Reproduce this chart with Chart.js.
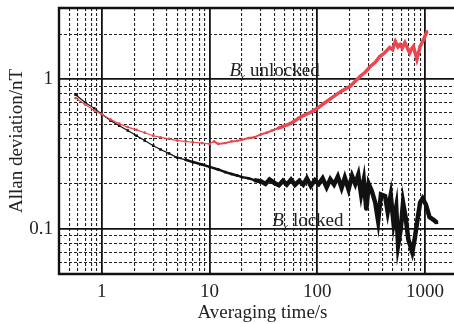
<!DOCTYPE html>
<html>
<head>
<meta charset="utf-8">
<script src="https://cdn.jsdelivr.net/npm/chart.js@4/dist/chart.umd.min.js"></script>
<style>
  html, body { margin: 0; padding: 0; background: #fff; overflow: hidden; }
  #wrap { width: 454px; height: 324px; overflow: hidden; }
</style>
</head>
<body>
<!-- the plot runs past the right edge of the picture, as in the original -->
<div id="wrap"><canvas id="allan" width="470" height="324"></canvas></div>
<script>
// averaging time (s) and Allan deviation (nT)
var lockedTimes = [0.57, 0.7, 0.85, 1.0, 1.2, 1.45, 1.74, 2.1, 2.5, 3.0, 3.5, 4.2, 5.0, 6.0, 7.0, 8.5,
  10, 12, 14, 16, 18, 20, 23, 26, 30, 33, 36, 40, 44, 48, 52, 57, 62, 68, 74, 80, 87, 95,
  103, 112, 122, 132, 143, 155, 168, 180, 195, 210, 225, 240, 255, 270, 285, 300, 320, 345,
  367, 390, 426, 450, 480, 510, 540, 562, 595, 625, 660, 700, 760, 800, 850, 900, 950, 1020,
  1100, 1200, 1290];
var lockedDev = [0.79, 0.7, 0.64, 0.585, 0.53, 0.49, 0.455, 0.42, 0.39, 0.36, 0.34, 0.32, 0.30, 0.29, 0.28, 0.27,
  0.26, 0.25, 0.24, 0.233, 0.228, 0.222, 0.218, 0.212, 0.208, 0.2, 0.214, 0.203, 0.196, 0.21, 0.198, 0.214, 0.197, 0.21, 0.198, 0.218, 0.194, 0.212,
  0.2, 0.218, 0.19, 0.215, 0.198, 0.224, 0.188, 0.22, 0.184, 0.226, 0.2, 0.23, 0.17, 0.212, 0.135, 0.2, 0.18, 0.15,
  0.113, 0.17, 0.166, 0.13, 0.168, 0.11, 0.14, 0.078, 0.1, 0.15, 0.12, 0.085, 0.07, 0.085, 0.115, 0.15, 0.16, 0.145,
  0.12, 0.115, 0.11];

var unlockedTimes = [0.57, 0.7, 0.85, 1.0, 1.2, 1.45, 1.74, 2.1, 2.5, 3.0, 3.5, 4.2, 5.0, 6.0, 7.0, 8.5,
  10, 11, 12, 14, 16, 18, 20, 23, 26, 30, 34, 38, 43, 48, 54, 60, 67, 75, 86, 100, 115, 132,
  150, 170, 202, 225, 250, 280, 310, 345, 380, 420, 470, 500, 530, 560, 585, 615, 650, 690,
  720, 750, 780, 810, 840, 870, 900, 970, 1040];
var unlockedDev = [0.75, 0.68, 0.62, 0.585, 0.54, 0.505, 0.48, 0.46, 0.44, 0.42, 0.41, 0.40, 0.39, 0.385, 0.38, 0.375,
  0.37, 0.385, 0.37, 0.375, 0.385, 0.388, 0.395, 0.405, 0.41, 0.43, 0.44, 0.455, 0.47, 0.485, 0.5, 0.52, 0.55, 0.575, 0.6, 0.64, 0.69, 0.74,
  0.79, 0.84, 0.9, 0.97, 1.05, 1.12, 1.22, 1.3, 1.42, 1.5, 1.63, 1.58, 1.79, 1.65, 1.71, 1.62, 1.76, 1.6,
  1.5, 1.6, 1.66, 1.5, 1.36, 1.5, 1.66, 1.85, 2.09];

var xDecades = [1, 10, 100, 1000];
var yDecades = [0.1, 1];

var labelFont = "'Liberation Serif', 'DejaVu Serif', serif";

function isMajor(v) {
  var l = Math.log10(v);
  return Math.abs(l - Math.round(l)) < 1e-9;
}

function logTicks(min, max) {
  var out = [];
  for (var e = Math.floor(Math.log10(min)); e <= Math.ceil(Math.log10(max)); e++) {
    for (var m = 1; m <= 9; m++) {
      var v = +(m * Math.pow(10, e)).toPrecision(6);
      if (v >= min - 1e-12 && v <= max + 1e-12) out.push({ value: v, major: isMajor(v) });
    }
  }
  return out;
}

function toPoints(xs, ys) {
  return xs.map((x, i) => ({ x: x, y: ys[i] }));
}

var gridOpts = {
  color: (ctx) => (ctx.tick && isMajor(ctx.tick.value) ? "#111" : "#222"),
  lineWidth: (ctx) => (ctx.tick && isMajor(ctx.tick.value) ? 1.8 : 1.1),
  drawTicks: false,
};
var borderOpts = {
  display: false,
  dash: (ctx) => (ctx.tick && !isMajor(ctx.tick.value) ? [3, 2] : []),
};

// left, top and bottom frame
var frame = {
  id: "frame",
  afterDraw(chart) {
    var a = chart.chartArea;
    var ctx = chart.ctx;
    ctx.save();
    ctx.strokeStyle = "#111";
    ctx.lineWidth = 2.4;
    ctx.beginPath();
    ctx.moveTo(chart.width, a.top);
    ctx.lineTo(a.left, a.top);
    ctx.lineTo(a.left, a.bottom);
    ctx.lineTo(chart.width, a.bottom);
    ctx.stroke();
    ctx.restore();
  },
};

var notes = [
  { x: 15.3, y: 1.05, sub: "x", text: "unlocked" },
  { x: 38.2, y: 0.105, sub: "x", text: "locked" },
];

var annotate = {
  id: "annotate",
  afterDatasetsDraw(chart) {
    var ctx = chart.ctx;
    var xs = chart.scales.x;
    var ys = chart.scales.y;
    ctx.save();
    ctx.fillStyle = "#222";
    ctx.textBaseline = "alphabetic";
    notes.forEach((n) => {
      var px = xs.getPixelForValue(n.x);
      var py = ys.getPixelForValue(n.y);
      ctx.font = "italic 19px " + labelFont;
      ctx.fillText("B", px, py);
      var w = ctx.measureText("B").width;
      ctx.font = "italic 11px " + labelFont;
      ctx.fillText(n.sub, px + w - 1, py + 4);
      ctx.font = "19px " + labelFont;
      ctx.fillText(n.text, px + w + 9, py);
    });
    ctx.restore();
  },
};

var chart = new Chart(document.getElementById("allan"), {
  type: "line",
  data: {
    datasets: [
      {
        label: "Bx unlocked",
        data: toPoints(unlockedTimes, unlockedDev),
        borderColor: "#e8484f",
        backgroundColor: "#e8484f",
        pointStyle: "circle",
        pointRadius: 1.4,
        pointBorderWidth: 0,
        borderWidth: 1,
        segment: {
          borderWidth: (ctx) => (ctx.p0.parsed.x > 40 ? 3.5 : ctx.p0.parsed.x > 10 ? 2 : 1.2),
        },
      },
      {
        label: "Bx locked",
        data: toPoints(lockedTimes, lockedDev),
        borderColor: "#111",
        backgroundColor: "#111",
        pointStyle: "rect",
        pointRadius: 1.8,
        pointBorderWidth: 0,
        borderWidth: 1,
        segment: {
          borderWidth: (ctx) => (ctx.p0.parsed.x > 25 ? 4.5 : ctx.p0.parsed.x > 5 ? 2.5 : 1.2),
        },
      },
    ],
  },
  options: {
    responsive: false,
    animation: false,
    devicePixelRatio: 1,
    layout: { padding: { top: 8, right: 0, left: 0, bottom: 0 } },
    plugins: {
      legend: { display: false },
      tooltip: { enabled: false },
    },
    scales: {
      x: {
        type: "logarithmic",
        min: 0.4,
        max: 2400,
        afterBuildTicks: (scale) => {
          scale.ticks = logTicks(0.4, 2400);
        },
        afterFit: (scale) => {
          scale.height = 50;
          scale.paddingLeft = 0;
          scale.paddingRight = 0;
        },
        ticks: {
          autoSkip: false,
          maxRotation: 0,
          padding: 7,
          color: "#222",
          font: { family: labelFont, size: 19 },
          callback: (v) => (xDecades.includes(v) ? String(v) : ""),
        },
        grid: gridOpts,
        border: borderOpts,
        title: {
          display: true,
          text: "Averaging time/s",
          color: "#222",
          font: { family: labelFont, size: 19 },
          padding: { top: 0, bottom: 0 },
        },
      },
      y: {
        type: "logarithmic",
        min: 0.05,
        max: 3,
        afterBuildTicks: (scale) => {
          scale.ticks = logTicks(0.05, 3);
        },
        afterFit: (scale) => {
          scale.width = 59;
          scale.paddingTop = 0;
          scale.paddingBottom = 0;
        },
        ticks: {
          autoSkip: false,
          padding: 6,
          color: "#222",
          font: { family: labelFont, size: 19 },
          callback: (v) => (yDecades.includes(v) ? String(v) : ""),
        },
        grid: gridOpts,
        border: borderOpts,
        title: {
          display: true,
          text: "Allan deviation/nT",
          color: "#222",
          font: { family: labelFont, size: 19 },
          padding: { top: 6, bottom: 0 },
        },
      },
    },
  },
  plugins: [frame, annotate],
});
</script>
</body>
</html>
